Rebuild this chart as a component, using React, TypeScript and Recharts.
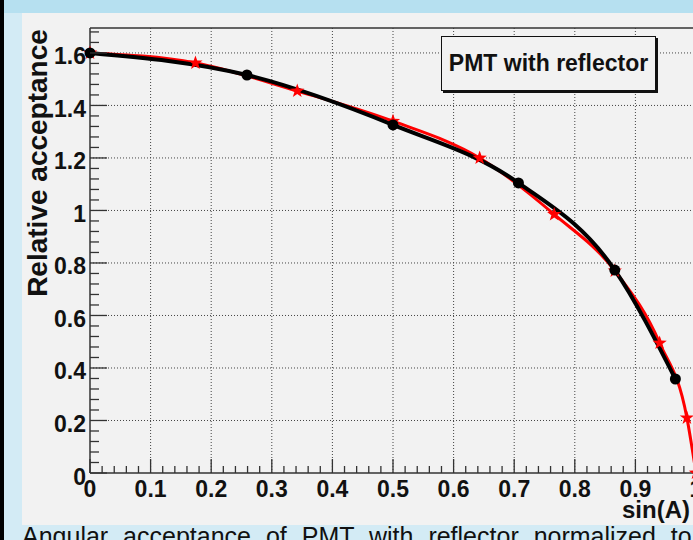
import React from 'react';
import { LineChart, Line, XAxis, YAxis, ReferenceLine } from 'recharts';

// Red series (stars): sin(A) for A = 0..90 deg in 10 deg steps
const redX = [0, 0.174, 0.342, 0.5, 0.643, 0.766, 0.866, 0.94, 0.985, 1.0];
const redY = [1.6, 1.562, 1.455, 1.34, 1.2, 0.985, 0.77, 0.495, 0.21, 0];
// Black series (circles): A = 0..75 deg in 15 deg steps
const blackX = [0, 0.259, 0.5, 0.707, 0.866, 0.966];
const blackY = [1.6, 1.516, 1.326, 1.105, 0.773, 0.358];

const xMajorTicks = [0, 0.1, 0.2, 0.3, 0.4, 0.5, 0.6, 0.7, 0.8, 0.9, 1];
const xTickLabels = ['0', '0.1', '0.2', '0.3', '0.4', '0.5', '0.6', '0.7', '0.8', '0.9', '1'];
const yMajorTicks = [0, 0.2, 0.4, 0.6, 0.8, 1, 1.2, 1.4, 1.6];
const yTickLabels = ['0', '0.2', '0.4', '0.6', '0.8', '1', '1.2', '1.4', '1.6'];
const xAllTicks = Array.from({ length: 51 }, (_, i) => i / 50);
const yAllTicks = Array.from({ length: 43 }, (_, i) => i / 25);

const X_MAX = 1;
const Y_MAX = 1.695;

const redData = redX.map((x, i) => ({ x, y: redY[i] }));
const blackData = blackX.map((x, i) => ({ x, y: blackY[i] }));

const FONT = '"Liberation Sans", Arial, Helvetica, sans-serif';
const AXIS = '#333';

const XTick = (props: any) => {
  const { x, y, payload } = props;
  const v = payload.value as number;
  const idx = Math.round(v * 10);
  const major = Math.abs(v * 10 - idx) < 1e-6;
  return (
    <g>
      <line x1={x} y1={y} x2={x} y2={y - (major ? 14 : 7)} stroke={AXIS} strokeWidth={1.3} />
      {major && (
        <text x={x} y={y + 24} textAnchor="middle" fontSize={23} fontWeight="bold" fill="#111" fontFamily={FONT}>
          {xTickLabels[idx]}
        </text>
      )}
    </g>
  );
};

const YTick = (props: any) => {
  const { x, y, payload } = props;
  const v = payload.value as number;
  const idx = Math.round(v * 5);
  const major = Math.abs(v * 5 - idx) < 1e-6;
  return (
    <g>
      <line x1={x} y1={y} x2={x + (major ? 17 : 9)} y2={y} stroke={AXIS} strokeWidth={1.3} />
      {major && (
        <text x={x - 4} y={y + 11.5} textAnchor="end" fontSize={23} fontWeight="bold" fill="#111" fontFamily={FONT}>
          {yTickLabels[idx]}
        </text>
      )}
    </g>
  );
};

const StarDot = (props: any) => {
  const { cx, cy } = props;
  if (cx == null || cy == null) return null;
  const pts: string[] = [];
  const R = 7.5;
  const r = 3;
  for (let i = 0; i < 10; i++) {
    const a = -Math.PI / 2 + (i * Math.PI) / 5;
    const rad = i % 2 === 0 ? R : r;
    pts.push(`${cx + rad * Math.cos(a)},${cy + rad * Math.sin(a)}`);
  }
  return <polygon points={pts.join(' ')} fill="#ff0000" stroke="none" />;
};

const CircleDot = (props: any) => {
  const { cx, cy } = props;
  if (cx == null || cy == null) return null;
  return <circle cx={cx} cy={cy} r={5.5} fill="#000" />;
};

export default function App() {
  return (
    <div
      style={{
        position: 'absolute',
        left: 0,
        top: 0,
        width: 693,
        height: 540,
        overflow: 'hidden',
        background: '#d3ebf5',
        fontFamily: FONT,
      }}
    >
      {/* top blue strip */}
      <div style={{ position: 'absolute', left: 0, top: 0, width: 693, height: 13, background: '#b6e0f0' }} />
      {/* black left bar */}
      <div style={{ position: 'absolute', left: 0, top: 0, width: 4, height: 540, background: '#000' }} />
      {/* gray panel */}
      <div style={{ position: 'absolute', left: 22, top: 13, width: 671, height: 512, background: '#f2f2f2' }} />

      <div style={{ position: 'absolute', left: 0, top: 0 }}>
        <LineChart
          width={720}
          height={540}
          margin={{ top: 28, right: 24, bottom: 0, left: 0 }}
        >
          <XAxis
            type="number"
            dataKey="x"
            domain={[0, X_MAX]}
            ticks={xAllTicks}
            interval={0}
            height={67}
            tickSize={0}
            tickMargin={0}
            tickLine={false}
            tick={<XTick />}
            axisLine={{ stroke: AXIS, strokeWidth: 1.5 }}
          />
          <YAxis
            type="number"
            dataKey="y"
            domain={[0, Y_MAX]}
            ticks={yAllTicks}
            interval={0}
            width={90}
            tickSize={0}
            tickMargin={0}
            tickLine={false}
            tick={<YTick />}
            axisLine={{ stroke: AXIS, strokeWidth: 1.5 }}
          />
          {xMajorTicks.slice(1, 10).map((v) => (
            <ReferenceLine key={'gx' + v} x={v} stroke="#444" strokeWidth={1} strokeDasharray="1 2" />
          ))}
          {yMajorTicks.slice(1).map((v) => (
            <ReferenceLine key={'gy' + v} y={v} stroke="#444" strokeWidth={1} strokeDasharray="1 2" />
          ))}
          <ReferenceLine y={Y_MAX} stroke={AXIS} strokeWidth={1.5} />
          <ReferenceLine x={X_MAX} stroke={AXIS} strokeWidth={1.5} />
          <Line
            data={redData}
            dataKey="y"
            type="monotone"
            stroke="#ff0000"
            strokeWidth={3}
            dot={<StarDot />}
            activeDot={false}
            isAnimationActive={false}
          />
          <Line
            data={blackData}
            dataKey="y"
            type="monotone"
            stroke="#000"
            strokeWidth={4}
            dot={<CircleDot />}
            activeDot={false}
            isAnimationActive={false}
          />
        </LineChart>
      </div>

      {/* axis titles */}
      <svg style={{ position: 'absolute', left: 0, top: 0 }} width={693} height={540}>
        <text
          x={0}
          y={0}
          transform="translate(47,163) rotate(-90)"
          textAnchor="middle"
          fontSize={28}
          fontWeight="bold"
          fill="#111"
          fontFamily={FONT}
        >
          Relative acceptance
        </text>
        <text x={690} y={518} textAnchor="end" fontSize={24} fontWeight="bold" fill="#111" fontFamily={FONT}>
          sin(A)
        </text>
      </svg>

      {/* title box */}
      <div
        style={{
          position: 'absolute',
          left: 441,
          top: 36,
          width: 213,
          height: 53,
          border: '1.5px solid #111',
          boxShadow: '2px 2px 0 #111',
          background: '#f2f2f2',
          display: 'flex',
          alignItems: 'center',
          justifyContent: 'center',
          fontSize: 23,
          fontWeight: 'bold',
          color: '#111',
          fontFamily: FONT,
        }}
      >
        PMT with reflector
      </div>

      {/* caption (cut off at bottom) */}
      <div
        style={{
          position: 'absolute',
          left: 22,
          top: 524,
          whiteSpace: 'nowrap',
          fontSize: 25,
          lineHeight: '25px',
          wordSpacing: 8,
          color: '#111',
          fontFamily: FONT,
        }}
      >
        Angular acceptance of PMT with reflector normalized to
      </div>
    </div>
  );
}
